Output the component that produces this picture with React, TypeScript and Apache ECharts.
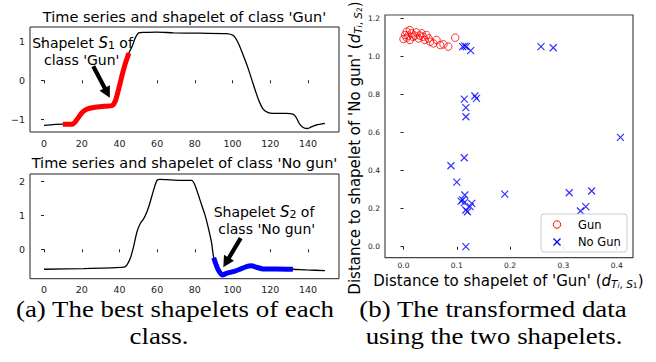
import React, { useEffect, useRef } from 'react';
import * as echarts from 'echarts';

// ---- Time series of class 'Gun' ----
const gunX = [0, 10, 15, 17.6, 20.2, 22.9, 26.4, 31.7, 36.1, 37.9, 39.6, 41.4, 43.1, 45, 46.7, 48.4, 50.2, 52.8, 59.9, 68.7, 82.8, 96.8, 100.4, 103, 105.6, 108.3, 110.9, 113.6, 116.2, 118.9, 121.5, 128.5, 132, 133.8, 135.6, 137.7, 140, 141.7, 144.4, 149];
const gunY = [-1.16, -1.13, -1.13, -1.0, -0.83, -0.74, -0.7, -0.67, -0.65, -0.52, -0.22, 0.13, 0.43, 0.7, 0.87, 1.09, 1.22, 1.23, 1.24, 1.22, 1.21, 1.2, 1.15, 0.96, 0.65, 0.3, -0.09, -0.48, -0.74, -0.83, -0.85, -0.85, -0.87, -0.96, -1.13, -1.22, -1.24, -1.2, -1.15, -1.11];
const S1_START = 10;
const S1_END = 45;

// ---- Time series of class 'No gun' ----
const noGunX = [0, 21, 42.3, 44, 45.8, 47.5, 49.3, 51.1, 52.8, 54.6, 56.3, 58.1, 59.9, 61.6, 65.1, 72.2, 78.3, 80.1, 81.9, 83.6, 85.4, 87.2, 88.9, 90, 92.4, 94.7, 96.8, 100.4, 103.9, 107.4, 110, 112.7, 116.2, 123.2, 132, 139.1, 149];
const noGunY = [-0.59, -0.57, -0.53, -0.46, -0.26, 0.08, 0.52, 0.77, 0.9, 1.11, 1.4, 1.75, 2.04, 2.07, 2.06, 2.04, 2.04, 1.89, 1.6, 1.31, 1.01, 0.62, 0.18, -0.25, -0.61, -0.76, -0.71, -0.66, -0.59, -0.51, -0.49, -0.53, -0.58, -0.58, -0.59, -0.61, -0.63];
const S2_START = 90;
const S2_END = 132;

// ---- Transformed data: distances to the two shapelets ----
const gunDistX = [0.0, 0.003, 0.006, 0.012, 0.009, 0.015, 0.018, 0.024, 0.028, 0.034, 0.037, 0.04, 0.043, 0.047, 0.05, 0.056, 0.062, 0.069, 0.075, 0.084, 0.097, 0.006, 0.012, 0.021, 0.031];
const gunDistY = [1.093, 1.114, 1.132, 1.14, 1.111, 1.123, 1.105, 1.128, 1.096, 1.123, 1.105, 1.088, 1.114, 1.096, 1.079, 1.07, 1.088, 1.061, 1.065, 1.053, 1.1, 1.1, 1.088, 1.111, 1.111];
const noGunDistX = [0.111, 0.115, 0.118, 0.126, 0.258, 0.281, 0.114, 0.117, 0.117, 0.134, 0.137, 0.407, 0.089, 0.114, 0.1, 0.108, 0.111, 0.115, 0.114, 0.128, 0.125, 0.117, 0.12, 0.117, 0.19, 0.311, 0.353, 0.342, 0.332];
const noGunDistY = [1.053, 1.056, 1.053, 1.032, 1.053, 1.047, 0.777, 0.732, 0.684, 0.793, 0.781, 0.575, 0.426, 0.468, 0.34, 0.24, 0.246, 0.272, 0.232, 0.228, 0.211, 0.193, 0.184, 0.0, 0.277, 0.284, 0.293, 0.211, 0.188];

// ---- Tick values ----
const seriesTicksX = [0, 20, 40, 60, 80, 100, 120, 140];
const gunTicksY = [-1, 0, 1];
const noGunTicksY = [0, 1, 2];
const scatterTicksX = [0, 0.1, 0.2, 0.3, 0.4];
const scatterTicksY = [0, 0.2, 0.4, 0.6, 0.8, 1.0, 1.2];
const legendNames = ['Gun', 'No Gun'];

const FONT = 'DejaVu Sans';
const SERIF = 'Liberation Serif';

const minus = (v: number) => (v < 0 ? '\u2212' + Math.abs(v) : String(v));

function valueAxis(gridIndex: number, min: number, max: number, ticks: number[], fontSize: number, margin: number, fmt: (v: number) => string) {
  return {
    type: 'value',
    gridIndex,
    min,
    max,
    axisLine: { show: false },
    axisTick: { show: true, customValues: ticks, length: 3, lineStyle: { color: '#222', width: 1 } },
    axisLabel: { customValues: ticks, fontSize, fontFamily: FONT, color: '#222', margin, formatter: fmt },
    splitLine: { show: false },
  };
}

export default function App() {
  const ref = useRef<HTMLDivElement>(null);
  useEffect(() => {
    const chart = echarts.init(ref.current!, null, { renderer: 'svg' });
    const gunData = gunX.map((x, i) => [x, gunY[i]]);
    const noGunData = noGunX.map((x, i) => [x, noGunY[i]]);
    const s1 = gunData.filter((p) => p[0] >= S1_START && p[0] <= S1_END);
    const s2 = noGunData.filter((p) => p[0] >= S2_START && p[0] <= S2_END);
    const gridStyle = { show: true, borderColor: '#222', borderWidth: 1, backgroundColor: 'transparent' };

    chart.setOption({
      animation: false,
      backgroundColor: '#fff',
      grid: [
        { left: 30, top: 27, width: 309, height: 105, ...gridStyle },
        { left: 30, top: 174, width: 309, height: 104.7, ...gridStyle },
        { left: 385, top: 15, width: 248, height: 242.7, ...gridStyle, borderColor: '#444', borderWidth: 1.2 },
      ],
      xAxis: [
        valueAxis(0, -7.45, 156.45, seriesTicksX, 9.5, 6, (v) => String(v)),
        valueAxis(1, -7.45, 156.45, seriesTicksX, 9.5, 6, (v) => String(v)),
        valueAxis(2, -0.0347, 0.4306, scatterTicksX, 7.5, 4, (v) => v.toFixed(1)),
      ],
      yAxis: [
        valueAxis(0, -1.33, 1.37, gunTicksY, 9.5, 5, minus),
        valueAxis(1, -0.87, 2.228, noGunTicksY, 9.5, 5, minus),
        valueAxis(2, -0.058, 1.2195, scatterTicksY, 7.5, 5, (v) => v.toFixed(1)),
      ],
      series: [
        { type: 'line', xAxisIndex: 0, yAxisIndex: 0, data: gunData, showSymbol: false, smooth: 0.25, lineStyle: { color: '#000', width: 1.3 }, z: 2 },
        { type: 'line', xAxisIndex: 0, yAxisIndex: 0, data: s1, showSymbol: false, smooth: 0.25, lineStyle: { color: '#ff0000', width: 5, cap: 'butt' }, z: 3 },
        { type: 'line', xAxisIndex: 1, yAxisIndex: 1, data: noGunData, showSymbol: false, smooth: 0.25, lineStyle: { color: '#000', width: 1.3 }, z: 2 },
        { type: 'line', xAxisIndex: 1, yAxisIndex: 1, data: s2, showSymbol: false, smooth: 0.25, lineStyle: { color: '#0000ff', width: 5, cap: 'butt' }, z: 3 },
        {
          name: legendNames[0], type: 'scatter', xAxisIndex: 2, yAxisIndex: 2,
          data: gunDistX.map((x, i) => [x, gunDistY[i]]),
          symbol: 'circle', symbolSize: 7.5,
          itemStyle: { color: 'rgba(0,0,0,0)', borderColor: '#ff0000', borderWidth: 1 },
        },
        {
          name: legendNames[1], type: 'scatter', xAxisIndex: 2, yAxisIndex: 2,
          data: noGunDistX.map((x, i) => [x, noGunDistY[i]]),
          symbol: 'path://M0,0L10,10M10,0L0,10', symbolSize: 7,
          itemStyle: { color: 'rgba(0,0,0,0)', borderColor: '#0000ff', borderWidth: 1.2 },
        },
      ],
    });

    const arrow = (xi: number, tail: number[], head: number[]) => {
      const t = chart.convertToPixel({ xAxisIndex: xi, yAxisIndex: xi }, tail) as number[];
      const h = chart.convertToPixel({ xAxisIndex: xi, yAxisIndex: xi }, head) as number[];
      const dx = h[0] - t[0];
      const dy = h[1] - t[1];
      const len = Math.hypot(dx, dy);
      const ux = dx / len, uy = dy / len;
      const nx = -uy, ny = ux;
      const sw = 2.1, hw = 5.8, hl = 11;
      const bx = h[0] - ux * hl, by = h[1] - uy * hl;
      const pts = [
        [t[0] + nx * sw, t[1] + ny * sw],
        [bx + nx * sw, by + ny * sw],
        [bx + nx * hw, by + ny * hw],
        [h[0], h[1]],
        [bx - nx * hw, by - ny * hw],
        [bx - nx * sw, by - ny * sw],
        [t[0] - nx * sw, t[1] - ny * sw],
      ];
      return { type: 'polygon', shape: { points: pts }, style: { fill: '#000' }, z: 100 };
    };

    const txt = (x: number, y: number, text: string, size: number, extra: any = {}) => ({
      type: 'text', x, y, z: 100,
      style: { text, fontSize: size, fontFamily: FONT, fill: '#000', align: 'center', verticalAlign: 'middle', ...extra },
    });

    const annRich = {
      s: { fontStyle: 'italic', fontSize: 15, fontFamily: FONT, lineHeight: 15 },
      n: { fontSize: 11, fontFamily: FONT, lineHeight: 5, verticalAlign: 'bottom' },
    };
    const labRich = {
      d: { fontStyle: 'italic', fontSize: 15, fontFamily: FONT, lineHeight: 17 },
      t: { fontStyle: 'italic', fontSize: 10.5, fontFamily: FONT, lineHeight: 6, verticalAlign: 'bottom' },
      c: { fontSize: 10.5, fontFamily: FONT, lineHeight: 6, verticalAlign: 'bottom' },
      u: { fontStyle: 'italic', fontSize: 7.5, fontFamily: FONT, lineHeight: 1, verticalAlign: 'bottom' },
      v: { fontSize: 7.5, fontFamily: FONT, lineHeight: 1, verticalAlign: 'bottom' },
    };

    // legend (drawn in the scatter's upper-left anchored box)
    const lgX = 541, lgY = 214, lgW = 86, lgH = 38;
    const legend = [
      { type: 'rect', shape: { x: lgX, y: lgY, width: lgW, height: lgH, r: 3 }, style: { fill: 'rgba(255,255,255,0.85)', stroke: '#cccccc', lineWidth: 1 }, z: 90 },
      { type: 'circle', shape: { cx: lgX + 16, cy: lgY + 10.5, r: 3.7 }, style: { fill: 'none', stroke: '#ff0000', lineWidth: 1 }, z: 91 },
      { type: 'line', shape: { x1: lgX + 12.5, y1: lgY + 24.5, x2: lgX + 19.5, y2: lgY + 31.5 }, style: { stroke: '#0000ff', lineWidth: 1.2 }, z: 91 },
      { type: 'line', shape: { x1: lgX + 19.5, y1: lgY + 24.5, x2: lgX + 12.5, y2: lgY + 31.5 }, style: { stroke: '#0000ff', lineWidth: 1.2 }, z: 91 },
      txt(lgX + 37, lgY + 10.5, legendNames[0], 11.5, { align: 'left' }),
      txt(lgX + 37, lgY + 28, legendNames[1], 11.5, { align: 'left' }),
    ];

    const cap = (x: number, y: number, text: string) => ({
      type: 'text', x, y, scaleX: 1.12, z: 100,
      style: { text, fontSize: 24, fontFamily: SERIF, fill: '#000', align: 'center', verticalAlign: 'middle' },
    });

    chart.setOption({
      graphic: [
        txt(184.5, 17, "Time series and shapelet of class 'Gun'", 14.5),
        txt(184.5, 163, "Time series and shapelet of class 'No gun'", 14.5),
        txt(82.5, 43, 'Shapelet {s|S}{n|1} of', 14, { lineHeight: 15, rich: annRich }),
        txt(81.7, 59.5, "class 'Gun'", 14, { lineHeight: 15 }),
        txt(264, 212, 'Shapelet {s|S}{n|2} of', 14, { lineHeight: 15, rich: annRich }),
        txt(266.7, 228.5, "class 'No gun'", 14, { lineHeight: 15 }),
        arrow(0, [26.1, 0.36], [34.9, -0.45]),
        arrow(1, [104.3, 0.33], [95.1, -0.53]),
        txt(508.4, 281, "Distance to shapelet of 'Gun' ({d|d}{t|T}{u|i}{c|, }{t|S}{v|1})", 15, { lineHeight: 17, rich: labRich }),
        { ...txt(355, 148, "Distance to shapelet of 'No gun' ({d|d}{t|T}{u|i}{c|, }{t|S}{v|2})", 15, { lineHeight: 17, rich: labRich }), rotation: Math.PI / 2 },
        ...legend,
        cap(175, 309, '(a) The best shapelets of each'),
        cap(159, 336, 'class.'),
        cap(493, 309, '(b) The transformed data'),
        cap(494, 336, 'using the two shapelets.'),
      ],
    });

    return () => chart.dispose();
  }, []);
  return <div ref={ref} style={{ position: 'absolute', left: 0, top: 0, width: 656, height: 362 }} />;
}
